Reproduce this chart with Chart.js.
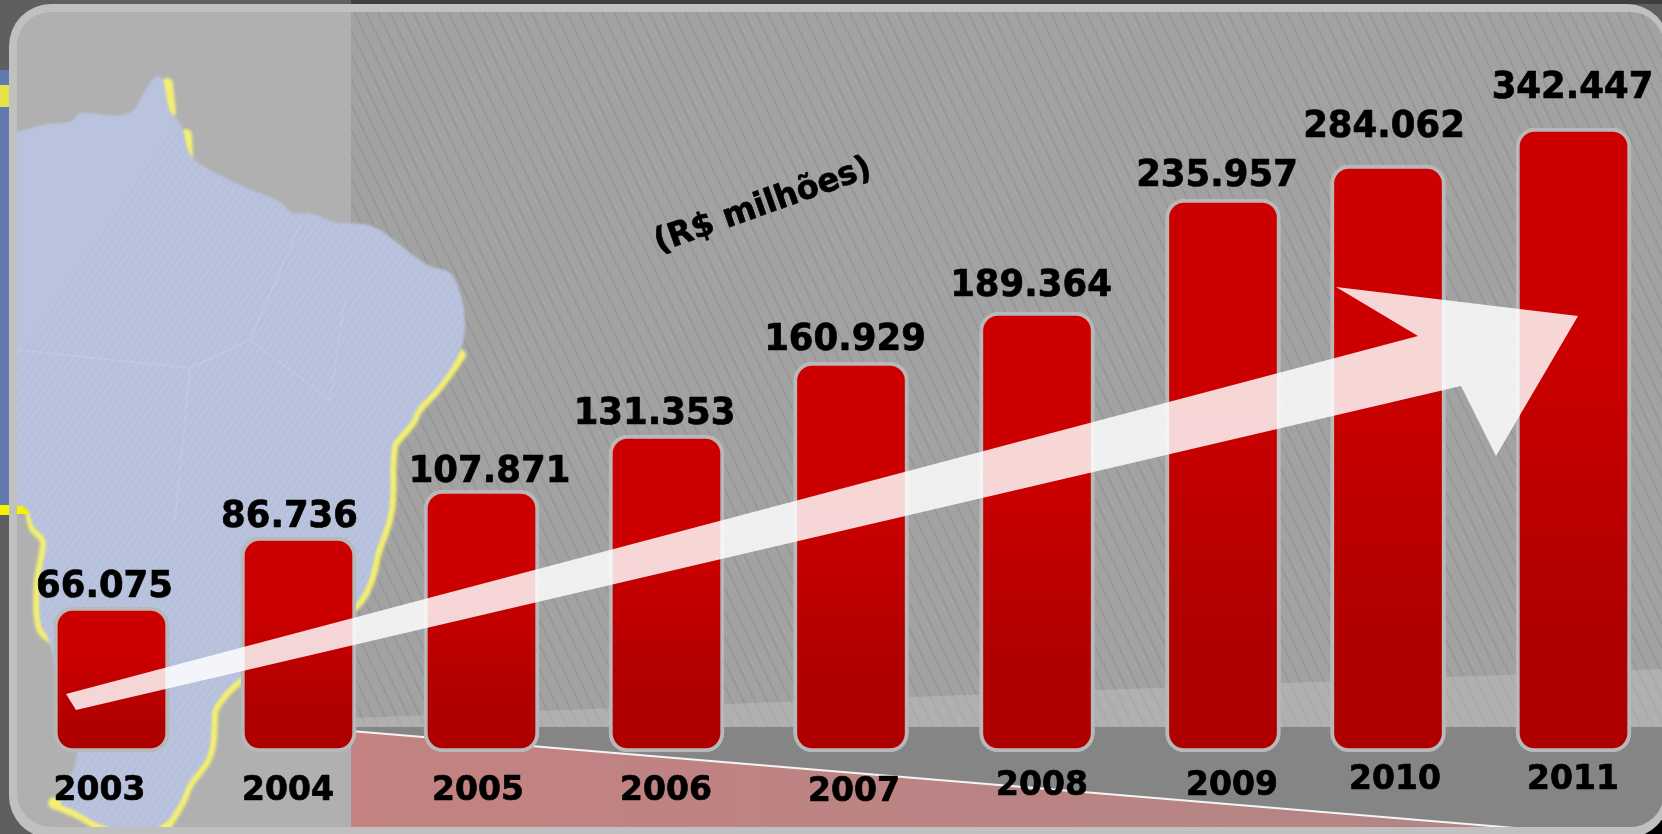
<!DOCTYPE html>
<html>
<head>
<meta charset="utf-8">
<style>
html,body{margin:0;padding:0;background:#5f5f5f;overflow:hidden}
#wrap{position:relative;width:1662px;height:834px}
canvas{display:block}
</style>
<script src="https://cdn.jsdelivr.net/npm/chart.js@4"></script>
</head>
<body>
<div id="wrap"><canvas id="c" width="1662" height="834"></canvas></div>
<script>
// ---- data, as printed on the picture ----
const years = ['2003','2004','2005','2006','2007','2008','2009','2010','2011'];
const revenue = [66075,86736,107871,131353,160929,189364,235957,284062,342447];
const unitLabel = '(R$ milhões)';

// ---- layout: the original axis is hand-drawn, neither linear nor evenly spaced ----
const barHeightShare = [0.2324,0.3446,0.4199,0.5080,0.6250,0.7051,0.8862,0.9407,1];
const slotCentres = [111.5,298.5,481.5,666.5,851,1037,1223,1388,1573.5];
const valueLabelOffset = [[-7,10],[-9,10],[8,8],[-12,11],[-6,12],[-6,16],[-6,13],[-4,28],[-1,30]];
const yearLabelPos = [[99.5,800],[288,800],[478,800],[666,800],[854,801],[1042,795],[1232,795],[1395,789],[1573,789]];

class PictureY extends Chart.LinearScale {
  getPixelForValue(v){
    const xs=[0,...revenue], ys=[0,...barHeightShare];
    let s=ys[ys.length-1];
    for(let i=1;i<xs.length;i++){ if(v<=xs[i]){ s=ys[i-1]+(ys[i]-ys[i-1])*(v-xs[i-1])/(xs[i]-xs[i-1]); break; } }
    return this.bottom-(this.bottom-this.top)*s;
  }
}
PictureY.id='pictureY';
PictureY.defaults=Chart.LinearScale.defaults;
class PictureX extends Chart.CategoryScale {
  getPixelForValue(v){
    const i = typeof v==='number'?v:this.parse(v);
    return this.left+slotCentres[i];
  }
}
PictureX.id='pictureX';
PictureX.defaults=Chart.CategoryScale.defaults;
Chart.register(PictureY,PictureX);

function poly(ctx,pts,close=true){
  ctx.beginPath();
  pts.forEach((p,i)=>i?ctx.lineTo(p[0],p[1]):ctx.moveTo(p[0],p[1]));
  if(close)ctx.closePath();
}
function soft(ctx,pts,close=false){
  ctx.beginPath();
  ctx.moveTo(pts[0][0],pts[0][1]);
  for(let i=1;i<pts.length-1;i++){
    const mx=(pts[i][0]+pts[i+1][0])/2,my=(pts[i][1]+pts[i+1][1])/2;
    ctx.quadraticCurveTo(pts[i][0],pts[i][1],mx,my);
  }
  const l=pts[pts.length-1];ctx.lineTo(l[0],l[1]);
  if(close)ctx.closePath();
}
const eastCoast=[[458,285],[465,310],[465,335],[460,355],[440,385],[415,410],[413,420],[395,440],[392,445],[390,470],[391,497],[387,523],[375,553],[371,577],[357,607],[300,640],[238,677],[212,707],[212,720],[210,757],[187,783],[182,800],[163,830]];
const mapOutline=[[0,137],[30,128],[50,123],[75,122],[76,112],[92,113],[110,116],[125,115],[135,110],[145,90],[155,76],[163,76],[167,100],[170,113],[183,125],[186,145],[190,155],[200,165],[220,175],[250,190],[280,200],[292,215],[310,212],[335,223],[350,223],[375,225],[400,245],[430,268],[450,270],...eastCoast,[107,830],[75,810],[54,803],[84,752],[60,700],[50,637],[39,627],[39,580],[46,550],[46,537],[32,527],[28,505],[0,505]];
const glowEast=eastCoast.slice(3);
const glowWest=[[32,514],[32,527],[46,537],[46,550],[39,580],[39,627],[50,637],[58,640]];
const glowSouth=[[54,803],[75,810],[107,830]];
const arrowShape=[[66,694],[76,710],[1461,386],[1496,456],[1578,316],[1336,287],[1418,336]];

function panelPath(ctx,x,y,w,h,r){ctx.beginPath();ctx.roundRect(x,y,w,h,r);}
function heavyText(c,t,x,y,sy){
  c.save();c.translate(x,y);c.scale(1,sy);
  c.fillText(t,0,0);c.strokeText(t,0,0);
  c.restore();
}

const backdrop={
  id:'backdrop',
  beforeDraw(chart){
    const c=chart.ctx;
    c.save();
    // surroundings
    c.fillStyle='#5f5f5f';c.fillRect(0,0,1662,834);
    c.fillStyle='#3f3f3f';c.fillRect(351,0,1311,4);
    c.fillStyle='#000';c.fillRect(1600,790,62,44);
    c.fillStyle='#6379ad';c.fillRect(0,70,9,435);
    c.fillStyle='#e6e24a';c.fillRect(0,85,9,22);
    c.fillStyle='#f7f200';c.fillRect(0,505,9,10);
    // panel
    panelPath(c,9,4,1660,834,42);c.fillStyle='#c0c0c0';c.fill();
    panelPath(c,17,12,1647,815,34);c.save();c.clip();
    c.fillStyle='#b0b0b0';c.fillRect(17,12,1650,820);
    c.fillStyle='#a2a2a2';c.fillRect(351,12,1320,720);
    // hatch
    c.save();
    c.beginPath();c.rect(351,12,1320,715);c.clip();
    c.strokeStyle='rgba(95,95,95,.17)';c.lineWidth=1.6;
    c.beginPath();
    for(let x=-100;x<1700;x+=11.8){c.moveTo(x,0);c.lineTo(x+350,730);}
    c.stroke();
    // pale band rising to the right
    poly(c,[[351,718],[1662,669],[1662,728],[351,728]]);c.fillStyle='rgba(200,200,200,.38)';c.fill();
    c.restore();
    c.fillStyle='#858585';c.fillRect(351,727,1320,110);
    const g=c.createLinearGradient(351,0,1510,0);g.addColorStop(0,'#c48282');g.addColorStop(1,'#b38585');
    poly(c,[[351,731],[1515,828],[351,828]]);c.fillStyle=g;c.fill();
    c.strokeStyle='#f4f4f4';c.lineWidth=2;poly(c,[[351,731],[1515,828]],false);c.stroke();
    // map glow and body
    c.lineJoin='round';c.lineCap='round';
    c.save();
    c.filter='blur(1.5px)';
    c.strokeStyle='#f3ef72';c.lineWidth=12;
    [glowEast,glowWest,glowSouth,[[167,84],[170,112]],[[186,135],[187,155]]].forEach(l=>{soft(c,l);c.stroke();});
    c.restore();
    c.fillStyle='#f7f200';c.fillRect(17,505,14,9);
    c.fillStyle='#efea60';c.beginPath();c.arc(184,773,3,0,7);c.fill();
    c.save();
    c.filter='blur(0.8px)';
    soft(c,mapOutline,true);c.fillStyle='#b9c3dd';c.fill();
    c.restore();
    c.save();
    soft(c,mapOutline,true);c.clip();
    c.strokeStyle='rgba(90,105,155,.08)';c.lineWidth=1;c.beginPath();
    for(let x=-300;x<900;x+=7){c.moveTo(x,834);c.lineTo(x+560,0);}
    c.stroke();
    c.strokeStyle='rgba(225,232,245,.2)';c.lineWidth=1.5;c.beginPath();
    c.moveTo(17,350);c.lineTo(190,368);c.lineTo(250,340);c.lineTo(300,225);
    c.moveTo(190,368);c.lineTo(175,520);c.moveTo(250,340);c.lineTo(330,400);c.lineTo(345,300);
    c.stroke();
    c.restore();
    c.restore();
    c.restore();
  },
  afterDatasetsDraw(chart){
    const c=chart.ctx, xs=chart.scales.x, ys=chart.scales.y;
    c.save();
    poly(c,arrowShape);c.fillStyle='rgba(255,255,255,.84)';c.fill();
    c.fillStyle='#000';c.strokeStyle='#000';c.lineWidth=0.7;c.lineJoin='round';
    c.textAlign='center';c.textBaseline='alphabetic';
    c.font='bold 35.5px "DejaVu Sans"';
    revenue.forEach((v,i)=>{
      const t=String(v).replace(/(\d)(\d{3})$/,'$1.$2');
      const o=valueLabelOffset[i];
      heavyText(c,t,xs.getPixelForValue(i)+o[0],ys.getPixelForValue(v)-o[1],1.04);
    });
    c.font='bold 33px "DejaVu Sans"';
    years.forEach((y,i)=>heavyText(c,y,yearLabelPos[i][0],yearLabelPos[i][1],1.03));
    c.translate(763,206);c.rotate(-19.6*Math.PI/180);
    c.font='bold 32px "DejaVu Sans"';
    c.textBaseline='middle';
    heavyText(c,unitLabel,0,0,1.03);
    c.restore();
  }
};

new Chart(document.getElementById('c'),{
  type:'bar',
  data:{labels:years,datasets:[{
    data:revenue,
    barThickness:115,
    borderWidth:4,
    borderColor:'#b8b8b8',
    borderSkipped:false,
    borderRadius:19,
    clip:false,
    backgroundColor(ctx){
      const ch=ctx.chart;
      if(!ch.chartArea||!ctx.parsed)return '#c00000';
      const top=ch.scales.y.getPixelForValue(ctx.parsed.y), bot=ch.scales.y.getPixelForValue(0);
      const g=ch.ctx.createLinearGradient(0,top,0,bot);
      g.addColorStop(0,'#cc0000');g.addColorStop(0.35,'#cc0000');g.addColorStop(0.75,'#b20000');g.addColorStop(1,'#ae0000');
      return g;
    }
  }]},
  options:{
    responsive:false,animation:false,
    layout:{padding:{top:128,bottom:82,left:0,right:0}},
    plugins:{legend:{display:false},tooltip:{enabled:false},title:{display:false}},
    scales:{
      x:{type:'pictureX',display:false,grid:{display:false}},
      y:{type:'pictureY',display:false,min:0,max:342447,grid:{display:false}}
    }
  },
  plugins:[backdrop]
});
</script>
</body>
</html>
